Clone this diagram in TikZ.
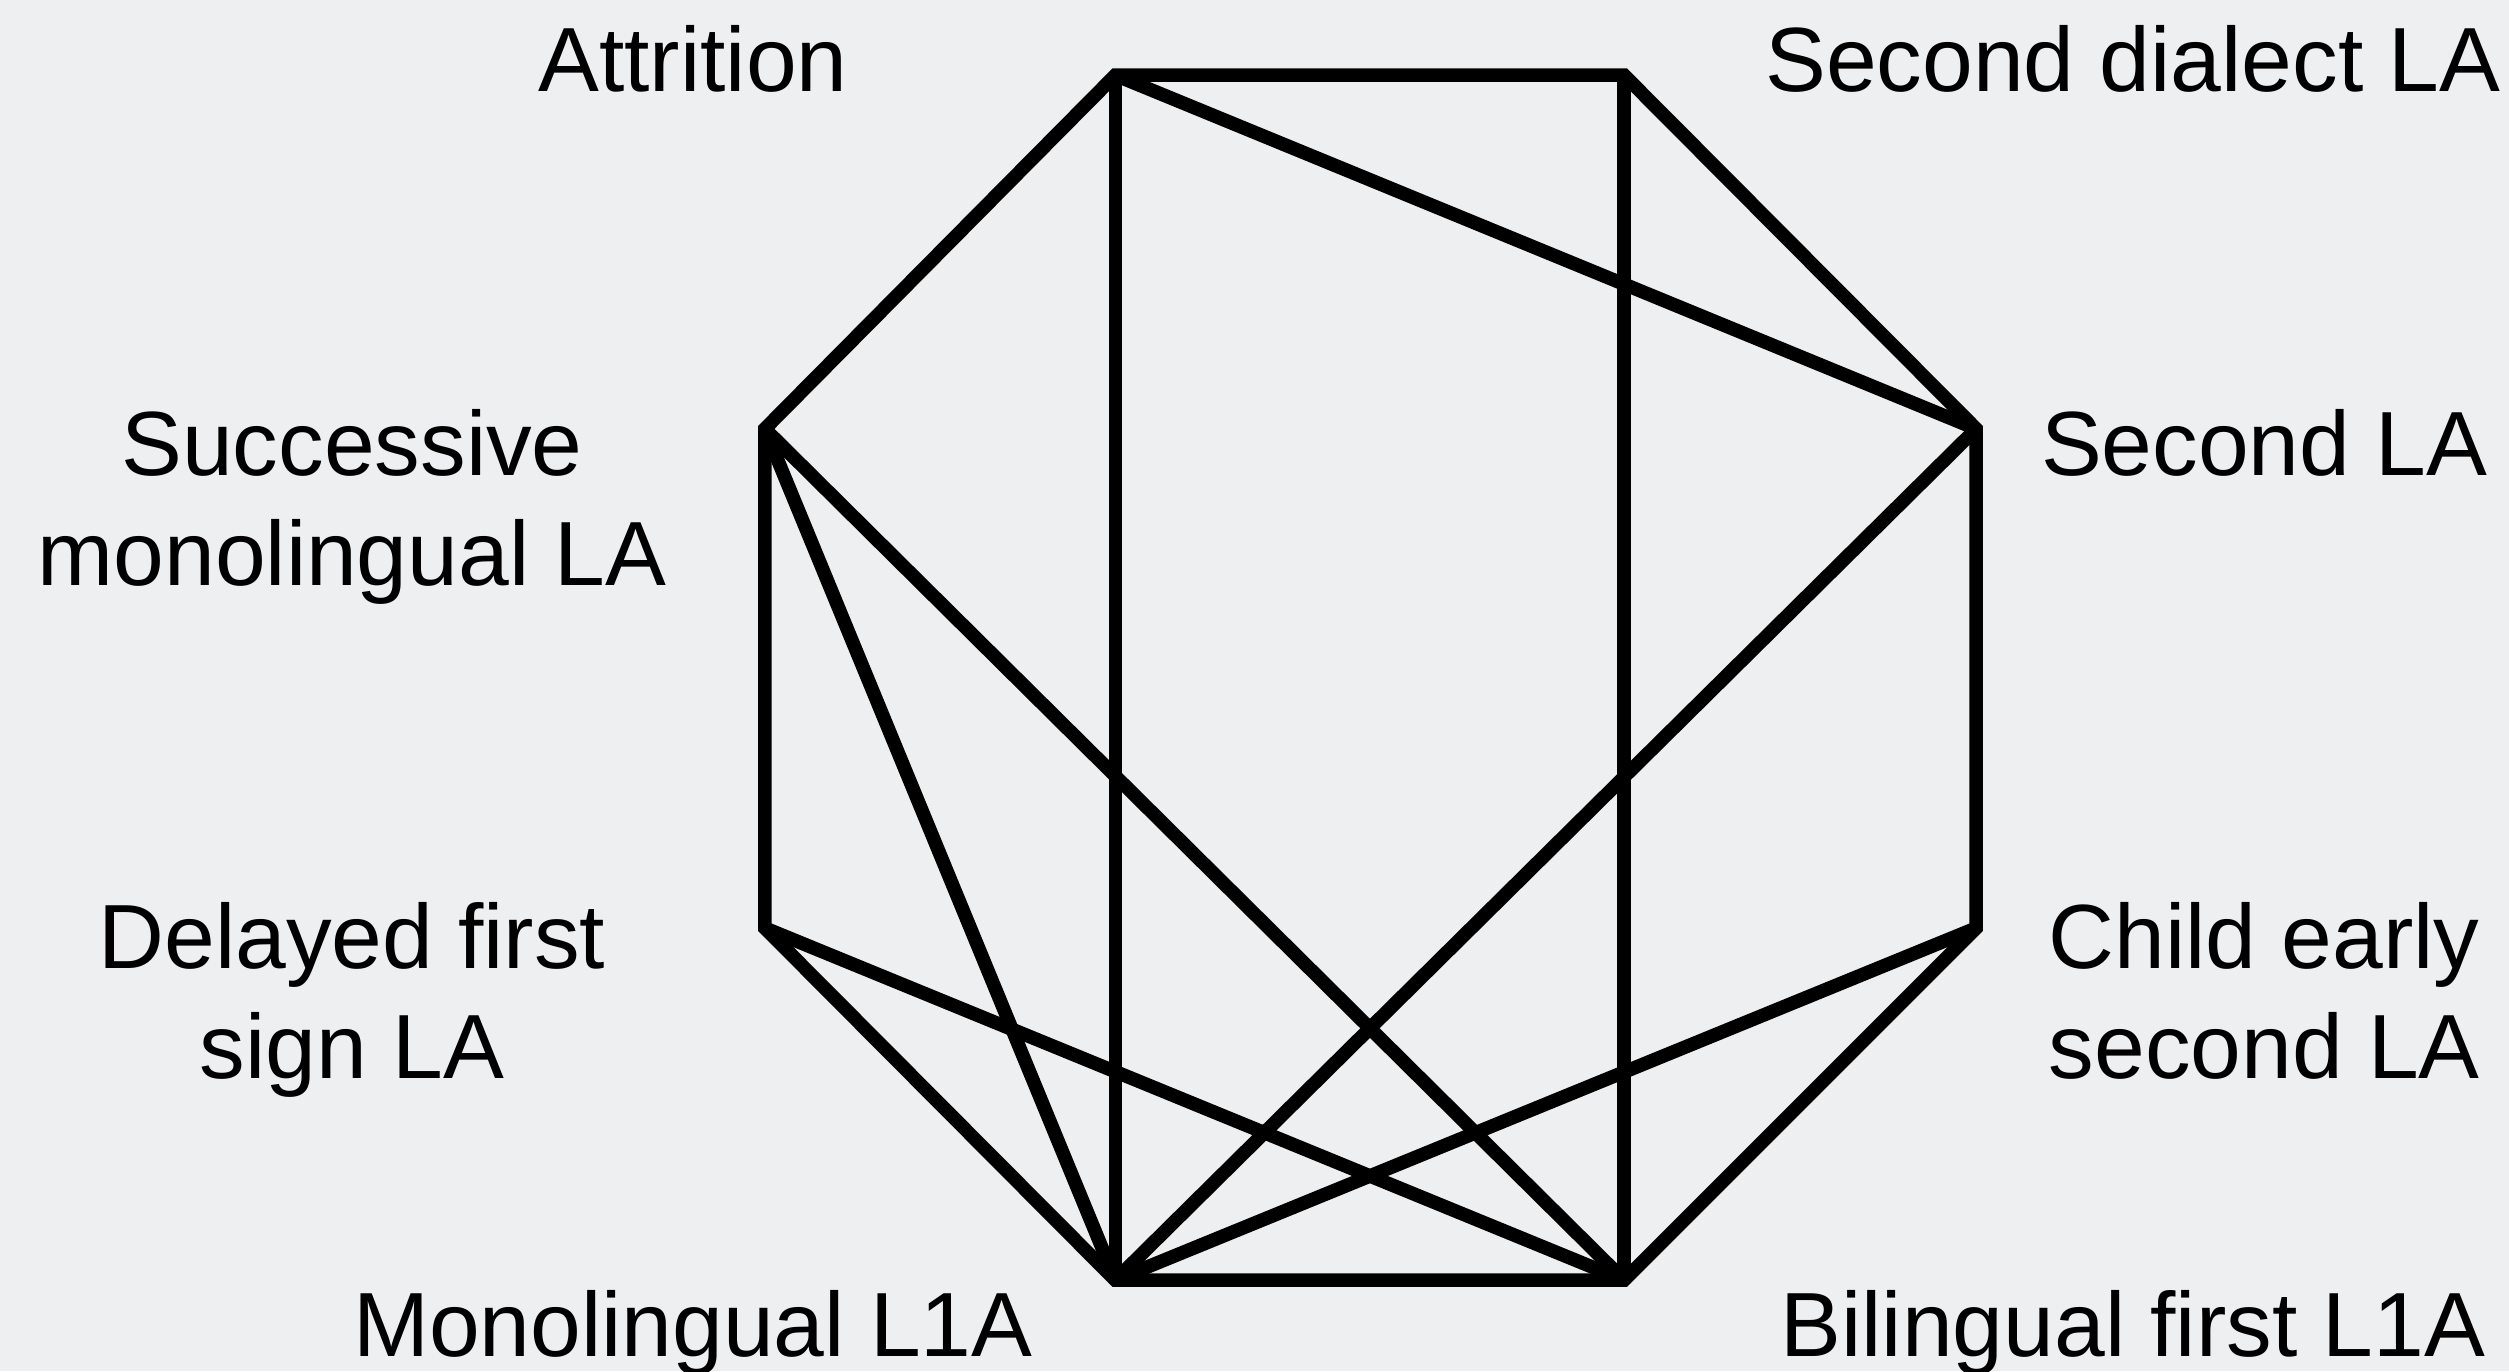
\documentclass[tikz,border=0pt]{standalone}
\usepackage{fontspec}
\setmainfont{Liberation Sans}
\usepackage{xcolor}
\usetikzlibrary{positioning}
\definecolor{bggray}{RGB}{238,239,241}
\definecolor{edgeblack}{RGB}{0,0,0}

\begin{document}
\begin{tikzpicture}[x=1pt,y=1pt,
  lbl/.style={anchor=base, align=center, inner sep=0pt, font=\fontsize{57}{69}\selectfont},
  edge/.style={draw=edgeblack, line width=8.5pt, line join=miter}]
\fill[bggray] (0,0) rectangle (1568,857);
\useasboundingbox (0,0) rectangle (1568,857);

% corners of the octagon
\coordinate (attr) at (697,810);
\coordinate (dial) at (1015,810);
\coordinate (sec) at (1235,589);
\coordinate (child) at (1235,277);
\coordinate (bil) at (1015,57);
\coordinate (mono) at (697,57);
\coordinate (delay) at (478,277);
\coordinate (succ) at (478,589);

% labels (base = last line)
\node[lbl] (attrlbl) at (433,800) {Attrition};
\node[lbl] (diallbl) at (1333,800) {Second dialect LA};
\node[lbl] (succlbl) at (220,491) {Successive\\monolingual LA};
\node[lbl] (seclbl) at (1415,560) {Second LA};
\node[lbl] (delaylbl) at (220,183) {Delayed first\\sign LA};
\node[lbl] (childlbl) at (1415,183) {Child early\\second LA};
\node[lbl] (monolbl) at (433,9) {Monolingual L1A};
\node[lbl] (billbl) at (1333,9) {Bilingual first L1A};

% outer ring
\draw[edge] (attr) -- (dial) -- (sec) -- (child) -- (bil) -- (mono) -- (delay) -- (succ) -- cycle;

% chords
\draw[edge] (attr) -- (mono);
\draw[edge] (dial) -- (bil);
\draw[edge] (attr) -- (sec);
\draw[edge] (succ) -- (bil);
\draw[edge] (succ) -- (mono);
\draw[edge] (sec) -- (mono);
\draw[edge] (delay) -- (bil);
\draw[edge] (child) -- (mono);
\end{tikzpicture}
\end{document}
